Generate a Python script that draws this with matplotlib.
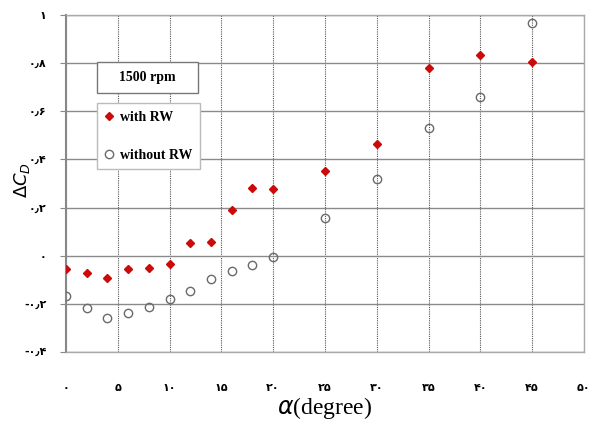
import matplotlib
matplotlib.use("Agg")
import matplotlib.pyplot as plt
from matplotlib.patches import Rectangle

# angle of attack (degree)
alpha = [0, 2, 4, 6, 8, 10, 12, 14, 16, 18, 20, 25, 30, 35, 40, 45]
# delta C_D, with rotating wheel
with_rw = [-0.054, -0.07, -0.091, -0.054, -0.05, -0.033, 0.053, 0.058,
           0.19, 0.28, 0.277, 0.352, 0.464, 0.782, 0.834, 0.805]
# delta C_D, without rotating wheel
alpha_no = [0, 2, 4, 6, 8, 10, 12, 14, 16, 18, 20, 25, 30, 35, 40, 45]
without_rw = [-0.167, -0.217, -0.257, -0.237, -0.213, -0.178, -0.146, -0.097,
              -0.065, -0.039, -0.007, 0.155, 0.319, 0.531, 0.658, 0.968]

xticks = [0, 5, 10, 15, 20, 25, 30, 35, 40, 45, 50]
yticks = [-0.4, -0.2, 0, 0.2, 0.4, 0.6, 0.8, 1.0]
fa = str.maketrans("0123456789.", "۰۱۲۳۴۵۶۷۸۹٫")

def fa_num(v):
    s = ("%g" % v)
    if s.startswith("-"):
        return "-" + s[1:].translate(fa)
    return s.translate(fa)

fig = plt.figure(figsize=(5.94, 4.43), dpi=100)
ax = fig.add_axes([0.111, 0.2054, 0.872, 0.7606])

ax.plot(alpha, with_rw, linestyle="none", marker="D", markersize=4.2,
        color="#cc0a0a", label="with RW", zorder=3)
ax.plot(alpha_no, without_rw, linestyle="none", marker="o", markersize=6,
        markerfacecolor="none", markeredgecolor="#6a6a6a", markeredgewidth=1.0,
        label="without RW", zorder=3)

ax.set_xlim(0, 50)
ax.set_ylim(-0.4, 1.0)
ax.set_xticks(xticks)
ax.set_yticks(yticks)
ax.set_xticklabels([fa_num(v) for v in xticks], fontsize=8, fontweight="bold")
ax.set_yticklabels([fa_num(v) for v in yticks], fontsize=8, fontweight="bold")
ax.tick_params(axis="x", length=0, pad=22)
ax.tick_params(axis="y", length=4, width=0.8, color="#888888", pad=10)

ax.yaxis.grid(True, color="#8a8a8a", linewidth=1.0, linestyle="-")
ax.xaxis.grid(True, color="#555555", linewidth=0.8, linestyle=(0, (1, 1)))
ax.set_axisbelow(True)
for name, sp in ax.spines.items():
    sp.set_color("#aaaaaa")
    sp.set_linewidth(1.0)
ax.spines["left"].set_color("#888888")
ax.spines["left"].set_linewidth(1.5)

ax.set_xlabel(r"$\alpha$(degree)", fontsize=17, family="Liberation Serif",
              labelpad=2)
ax.set_ylabel(r"$\Delta C_D$", fontsize=13)
ax.yaxis.set_label_coords(-0.066, 0.51)

# "1500 rpm" box
ax.add_patch(Rectangle((0.0598, 0.7685), 0.195, 0.092, transform=ax.transAxes,
                       facecolor="white", edgecolor="#777777", linewidth=1.0,
                       zorder=4))
ax.text(0.157, 0.8145, "1500 rpm", transform=ax.transAxes, ha="center",
        va="center", fontsize=10, fontweight="bold", family="Liberation Serif",
        zorder=5)

leg = ax.legend(loc="upper left", bbox_to_anchor=(0.0598, 0.739),
                prop={"family": "Liberation Serif", "weight": "bold", "size": 10},
                fancybox=False, edgecolor="#bbbbbb", framealpha=1,
                handlelength=0.6, handletextpad=0.5, labelspacing=1.8,
                borderpad=0.55, borderaxespad=0)
leg.get_frame().set_linewidth(1.0)

fig.savefig("out.png", dpi=100)
